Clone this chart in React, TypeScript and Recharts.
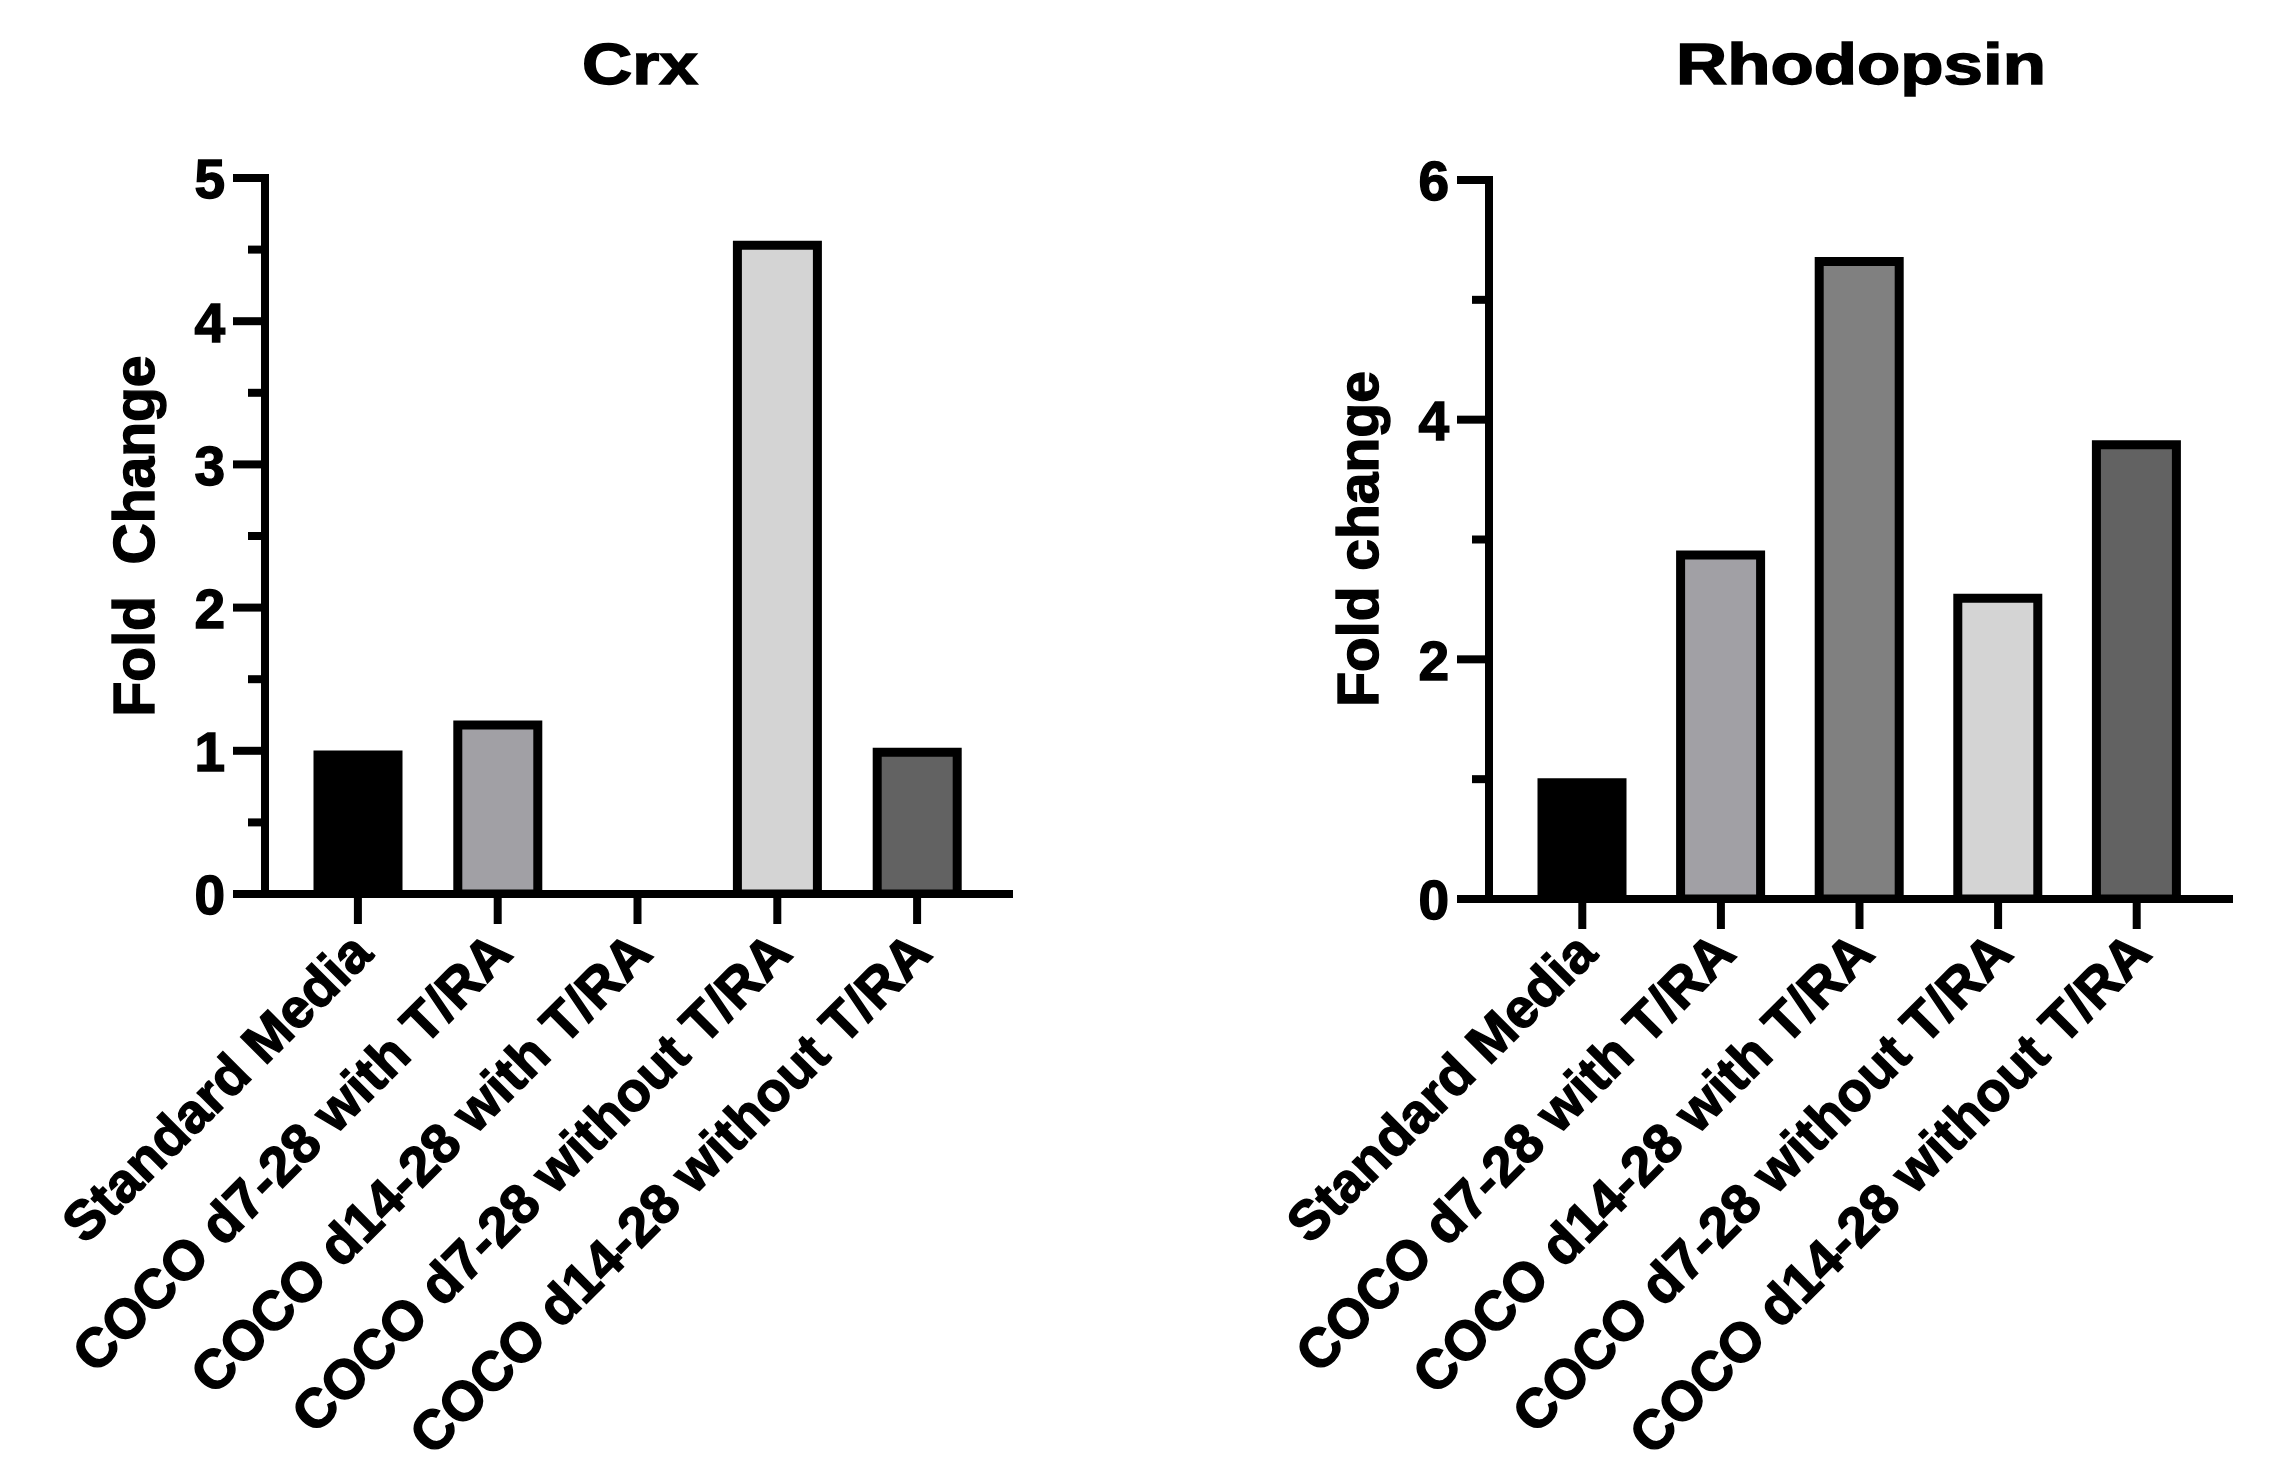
import React from 'react';
import { BarChart, Bar, XAxis, YAxis, Cell } from 'recharts';

const categories = [
  'Standard Media',
  'COCO d7-28 with T/RA',
  'COCO d14-28 with T/RA',
  'COCO d7-28 without T/RA',
  'COCO d14-28 without T/RA',
];
const crxValues = [0.97, 1.18, 0, 4.53, 0.99];
const rhodopsinValues = [0.97, 2.87, 5.32, 2.51, 3.79];
const barColors = ['#000000', '#a1a0a5', '#808080', '#d4d4d4', '#626262'];

const crxTicks = [0, 0.5, 1, 1.5, 2, 2.5, 3, 3.5, 4, 4.5, 5];
const crxMajorTicks = [0, 1, 2, 3, 4, 5];
const rhoTicks = [0, 1, 2, 3, 4, 5, 6];
const rhoMajorTicks = [0, 2, 4, 6];

const FONT = '"Liberation Sans", Arial, Helvetica, sans-serif';
const TEXT_STROKE = 1.4;

const crxData = categories.map((name, i) => ({ name, value: crxValues[i] }));
const rhoData = categories.map((name, i) => ({ name, value: rhodopsinValues[i] }));

const makeYTick = (axisX: number, major: number[]) => (props: any) => {
  const { y, payload } = props;
  const isMajor = major.includes(payload.value);
  const len = isMajor ? 32 : 17;
  return (
    <g>
      <line x1={axisX - len} x2={axisX} y1={y} y2={y} stroke="#000" strokeWidth={8} />
      {isMajor && (
        <text
          x={axisX - 40}
          y={y}
          dy="0.37em"
          textAnchor="end"
          fontSize={55}
          fontWeight="bold"
          fontFamily={FONT}
          fill="#000"
          stroke="#000"
          strokeWidth={TEXT_STROKE}
        >
          {payload.value}
        </text>
      )}
    </g>
  );
};

const makeXTick = (dy: number) => (props: any) => {
  const { x, y, payload } = props;
  const px = x + 17;
  const py = y + dy;
  return (
    <text
      x={px}
      y={py}
      textAnchor="end"
      transform={`rotate(-45, ${px}, ${py})`}
      fontSize={55}
      fontWeight="bold"
      fontFamily={FONT}
      fill="#000"
      stroke="#000"
      strokeWidth={TEXT_STROKE}
    >
      {payload.value}
    </text>
  );
};

function Panel(props: {
  data: { name: string; value: number }[];
  width: number;
  margin: { top: number; right: number; bottom: number; left: number };
  domain: [number, number];
  ticks: number[];
  major: number[];
  padding: { left: number; right: number };
  labelDy: number;
}) {
  const { data, width, margin, domain, ticks, major, padding, labelDy } = props;
  const yAxisWidth = 130;
  const axisX = margin.left + yAxisWidth;
  return (
    <BarChart width={width} height={1467} data={data} margin={margin}>
      <XAxis
        dataKey="name"
        type="category"
        interval={0}
        height={540}
        tickSize={30}
        tickMargin={0}
        tickLine={{ stroke: '#000', strokeWidth: 8 }}
        axisLine={{ stroke: '#000', strokeWidth: 8 }}
        padding={padding}
        tick={makeXTick(labelDy)}
      />
      <YAxis
        type="number"
        domain={domain}
        ticks={ticks}
        interval={0}
        width={yAxisWidth}
        tickLine={false}
        axisLine={{ stroke: '#000', strokeWidth: 8, strokeLinecap: 'square' }}
        tick={makeYTick(axisX, major)}
        allowDataOverflow
      />
      <Bar dataKey="value" barSize={80} stroke="#000" strokeWidth={9} isAnimationActive={false}>
        {data.map((d, i) => (
          <Cell key={d.name} fill={barColors[i]} />
        ))}
      </Bar>
    </BarChart>
  );
}

export default function App() {
  const titleProps = {
    textAnchor: 'middle' as const,
    fontWeight: 'bold',
    fontFamily: FONT,
    fill: '#000',
    stroke: '#000',
    strokeWidth: TEXT_STROKE,
  };
  return (
    <div
      style={{
        position: 'absolute',
        left: 0,
        top: 0,
        width: 2269,
        height: 1467,
        background: '#fff',
        overflow: 'hidden',
      }}
    >
      <div style={{ position: 'absolute', left: 0, top: 0 }}>
        <Panel
          data={crxData}
          width={1134}
          margin={{ top: 178, right: 121, bottom: 33, left: 135 }}
          domain={[0, 5]}
          ticks={crxTicks}
          major={crxMajorTicks}
          padding={{ left: 23, right: 26 }}
          labelDy={32}
        />
      </div>
      <div style={{ position: 'absolute', left: 1134, top: 0 }}>
        <Panel
          data={rhoData}
          width={1135}
          margin={{ top: 180, right: 36, bottom: 28, left: 225 }}
          domain={[0, 6]}
          ticks={rhoTicks}
          major={rhoMajorTicks}
          padding={{ left: 24, right: 27 }}
          labelDy={27}
        />
      </div>
      <svg
        width={2269}
        height={1467}
        style={{ position: 'absolute', left: 0, top: 0, pointerEvents: 'none' }}
      >
        <text x={640} y={84} fontSize={57} textLength={116} lengthAdjust="spacingAndGlyphs" {...titleProps}>
          Crx
        </text>
        <text x={1861} y={84} fontSize={57} textLength={370} lengthAdjust="spacingAndGlyphs" {...titleProps}>
          Rhodopsin
        </text>
        <text
          x={154}
          y={536}
          fontSize={57}
          transform="rotate(-90, 154, 536)"
          style={{ whiteSpace: 'pre' }}
          {...titleProps}
        >
          {'Fold  Change'}
        </text>
        <text x={1378} y={539} fontSize={57} transform="rotate(-90, 1378, 539)" {...titleProps}>
          Fold change
        </text>
      </svg>
    </div>
  );
}
